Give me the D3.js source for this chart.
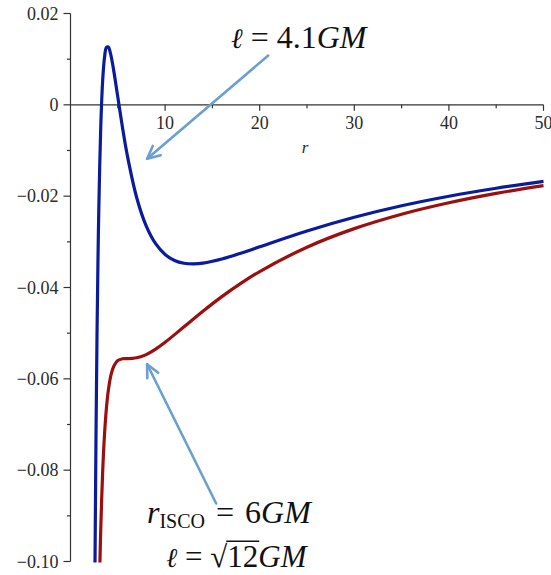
<!DOCTYPE html>
<html>
<head>
<meta charset="utf-8">
<script src="https://cdn.jsdelivr.net/npm/d3@7"></script>
<style>
  html, body { margin: 0; padding: 0; background: #fff; }
  svg { display: block; }
</style>
</head>
<body>
<svg id="chart" width="551" height="575"></svg>
<script>
// ---- data ----
// r values and effective potential for ℓ = 4.1 GM (blue)
const blueR = [2.59, 2.6, 2.7, 2.8, 2.9, 3.0, 3.2, 3.4, 3.6, 3.8, 4.0, 4.2, 4.5, 5, 5.5, 6, 7, 8, 9, 10, 11, 12, 13, 14, 16, 18, 20, 25, 30, 35, 40, 45, 50];
const blueV = [-0.1007, -0.09769, -0.07146, -0.05084, -0.03467, -0.02204, -0.00470, 0.00527, 0.01046, 0.01256, 0.01266, 0.01149, 0.00837, 0.00172, -0.00500, -0.01102, -0.02034, -0.02650, -0.03041, -0.03276, -0.03408, -0.03469, -0.03484, -0.03467, -0.03377, -0.03250, -0.03109, -0.02763, -0.02462, -0.02210, -0.02001, -0.01826, -0.01677];
// r values and effective potential for ℓ = √12 GM (red)
const redR = [3.1, 3.2, 3.4, 3.6, 3.8, 4.0, 4.3, 4.6, 5, 5.5, 6, 6.5, 7, 8, 9, 10, 12, 14, 16, 18, 20, 25, 30, 35, 40, 45, 50];
const redV = [-0.10104, -0.09277, -0.0804, -0.07202, -0.06634, -0.0625, -0.05899, -0.05712, -0.056, -0.0556, -0.05556, -0.05553, -0.05539, -0.05469, -0.0535, -0.052, -0.04861, -0.04519, -0.04199, -0.0391, -0.0365, -0.03117, -0.02711, -0.02395, -0.02144, -0.01939, -0.0177];

const xMajorTicks = [10, 20, 30, 40, 50];
const xMinorTicks = [5, 15, 25, 35, 45];
const yMajorTicks = [0.02, 0, -0.02, -0.04, -0.06, -0.08, -0.10];
const yMinorTicks = [0.01, -0.01, -0.03, -0.05, -0.07, -0.09];
const yTickLabels = ["0.02", "0", "\u22120.02", "\u22120.04", "\u22120.06", "\u22120.08", "\u22120.10"];

// annotation arrows, in data units: [tailR, tailV, tipR, tipV]
const arrow1 = [20.9, 0.0108, 8.1, -0.0118];
const arrow2 = [15.4, -0.0873, 8.1, -0.0568];

// ---- chart ----
const svg = d3.select("#chart");
const x = d3.scaleLinear().domain([0, 50]).range([70.5, 543.5]);
const y = d3.scaleLinear().domain([0.02, -0.10]).range([13.5, 561.5]);

const axisColor = "#333";
const labelFont = "'Liberation Serif', 'Times New Roman', serif";

// clip
svg.append("clipPath").attr("id", "plotclip")
  .append("rect").attr("x", x(0)).attr("y", 0).attr("width", x(50) - x(0) + 10).attr("height", y(-0.10) + 1);

// y axis line
svg.append("line").attr("x1", x(0)).attr("x2", x(0)).attr("y1", y(0.02)).attr("y2", y(-0.10))
  .attr("stroke", axisColor).attr("stroke-width", 1.2);
// x axis line
svg.append("line").attr("x1", x(0)).attr("x2", x(50)).attr("y1", y(0)).attr("y2", y(0))
  .attr("stroke", axisColor).attr("stroke-width", 1.2);

// y ticks
svg.selectAll(".ymaj").data(yMajorTicks).enter().append("line")
  .attr("x1", x(0) - 7).attr("x2", x(0)).attr("y1", d => y(d)).attr("y2", d => y(d))
  .attr("stroke", axisColor).attr("stroke-width", 1.2);
svg.selectAll(".ymin").data(yMinorTicks).enter().append("line")
  .attr("x1", x(0) - 3.5).attr("x2", x(0)).attr("y1", d => y(d)).attr("y2", d => y(d))
  .attr("stroke", axisColor).attr("stroke-width", 1.2);
svg.selectAll(".ylab").data(yMajorTicks).enter().append("text")
  .attr("x", x(0) - 12).attr("y", d => y(d)).attr("dy", "0.35em")
  .attr("text-anchor", "end").attr("font-family", labelFont).attr("font-size", 18)
  .attr("fill", "#2a2a2a").text((d, i) => yTickLabels[i]);

// x ticks
svg.selectAll(".xmaj").data(xMajorTicks).enter().append("line")
  .attr("x1", d => x(d)).attr("x2", d => x(d)).attr("y1", y(0)).attr("y2", y(0) + 6)
  .attr("stroke", axisColor).attr("stroke-width", 1.2);
svg.selectAll(".xmin").data(xMinorTicks).enter().append("line")
  .attr("x1", d => x(d)).attr("x2", d => x(d)).attr("y1", y(0)).attr("y2", y(0) + 3.5)
  .attr("stroke", axisColor).attr("stroke-width", 1.2);
svg.selectAll(".xlab").data(xMajorTicks).enter().append("text")
  .attr("x", d => x(d)).attr("y", y(0) + 24)
  .attr("text-anchor", "middle").attr("font-family", labelFont).attr("font-size", 18)
  .attr("fill", "#2a2a2a").text(d => d);

// axis title r
svg.append("text").attr("x", x(24.8)).attr("y", y(0) + 48)
  .attr("text-anchor", "middle").attr("font-family", labelFont).attr("font-style", "italic")
  .attr("font-size", 17).attr("fill", "#2a2a2a").text("r");

// curves
const line = d3.line().x(d => x(d[0])).y(d => y(d[1])).curve(d3.curveCatmullRom.alpha(0.5));
const g = svg.append("g").attr("clip-path", "url(#plotclip)");
g.append("path").datum(redR.map((r, i) => [r, redV[i]]))
  .attr("d", line).attr("fill", "none").attr("stroke", "#9c0f0f").attr("stroke-width", 3.2);
g.append("path").datum(blueR.map((r, i) => [r, blueV[i]]))
  .attr("d", line).attr("fill", "none").attr("stroke", "#0a1c9c").attr("stroke-width", 3.2);

// arrows
const arrowColor = "#6b9fd3";
function drawArrow(a) {
  const x1 = x(a[0]), y1 = y(a[1]), x2 = x(a[2]), y2 = y(a[3]);
  svg.append("line").attr("x1", x1).attr("y1", y1).attr("x2", x2).attr("y2", y2)
    .attr("stroke", arrowColor).attr("stroke-width", 2.6).attr("stroke-linecap", "round");
  const ang = Math.atan2(y1 - y2, x1 - x2);
  const len = 14, spread = 0.45;
  const p1 = [x2 + len * Math.cos(ang + spread), y2 + len * Math.sin(ang + spread)];
  const p2 = [x2 + len * Math.cos(ang - spread), y2 + len * Math.sin(ang - spread)];
  svg.append("path").attr("d", `M${p1[0]},${p1[1]}L${x2},${y2}L${p2[0]},${p2[1]}`)
    .attr("fill", "none").attr("stroke", arrowColor).attr("stroke-width", 2.6)
    .attr("stroke-linecap", "round").attr("stroke-linejoin", "round");
}
drawArrow(arrow1);
drawArrow(arrow2);

// annotations
const mathFont = "'Liberation Serif', 'DejaVu Serif', serif";
const ellFont = "'DejaVu Serif', serif";
const fs = 32;
const t1 = svg.append("text").attr("x", 231).attr("y", 48).attr("font-family", mathFont)
  .attr("font-size", fs).attr("fill", "#111");
t1.append("tspan").attr("font-family", ellFont).attr("font-style", "italic").attr("font-size", fs - 4).text("\u2113");
t1.append("tspan").text(" = 4.1");
t1.append("tspan").attr("font-style", "italic").text("GM");

const t2 = svg.append("text").attr("x", 147).attr("y", 523).attr("font-family", mathFont)
  .attr("font-size", fs).attr("fill", "#111");
t2.append("tspan").attr("font-style", "italic").text("r");
t2.append("tspan").attr("font-size", 20).attr("dy", 5).text("ISCO");
t2.append("tspan").attr("dy", -5).attr("dx", 3).text(" =");
t2.append("tspan").attr("dx", 3).text(" 6");
t2.append("tspan").attr("font-style", "italic").text("GM");

const fs3 = 31, base3 = 567;
const t3 = svg.append("text").attr("x", 166).attr("y", base3).attr("font-family", mathFont)
  .attr("font-size", fs3).attr("fill", "#111");
t3.append("tspan").attr("font-family", ellFont).attr("font-style", "italic").attr("font-size", fs3 - 4).text("\u2113");
t3.append("tspan").text(" = \u221A12");
t3.append("tspan").attr("font-style", "italic").text("GM");
// overline of the radical over "12"
const tn = t3.node();
const e = tn.getEndPositionOfChar(6).x;
const rs = tn.getEndPositionOfChar(4).x;
svg.append("line").attr("x1", rs - 1).attr("x2", e + 1).attr("y1", base3 - 25.7).attr("y2", base3 - 25.7)
  .attr("stroke", "#111").attr("stroke-width", 1.5);
</script>
</body>
</html>
